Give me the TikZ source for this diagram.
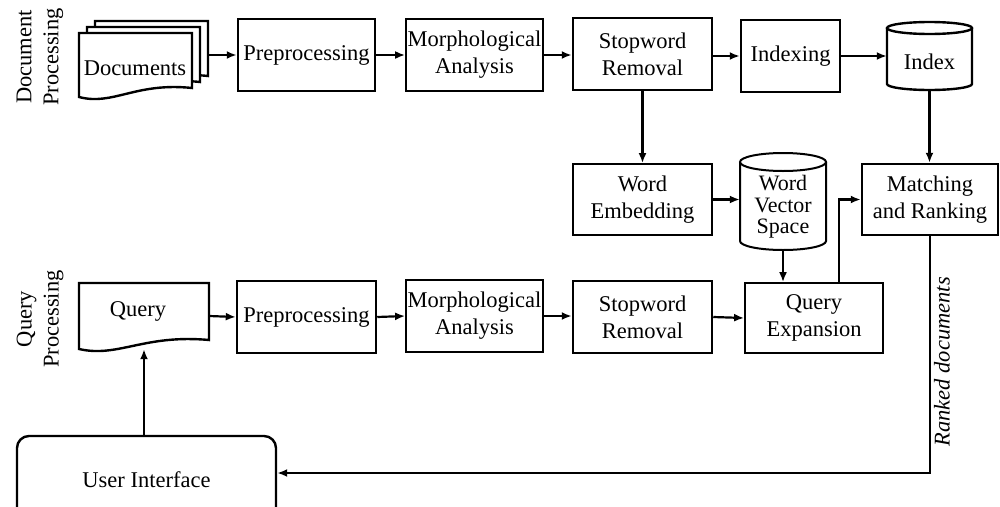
\documentclass[tikz,border=0pt]{standalone}
\usepackage{fontspec}
\setmainfont{Liberation Serif}
\usetikzlibrary{arrows.meta,calc}
\tikzset{
  base/.style={font=\fontsize{22.5}{27}\selectfont, align=center, inner sep=0pt},
  thickbox/.style={base, draw, line width=2.5pt, minimum height=72pt},
  thinbox/.style={base, draw, line width=1.8pt, minimum height=72pt},
  shapeline/.style={line width=2.4pt},
  thinline/.style={line width=2pt},
  conn/.style={line width=2.2pt, -{Latex[length=10pt,width=8pt]}},
  sidelabel/.style={base, rotate=90},
}
\newcommand{\docsheet}{(79,33) -- (192,33) -- (192,88) .. controls (135.5,82) and (113,106) .. (79,97) -- cycle}
\begin{document}
\begin{tikzpicture}[x=1pt,y=-1pt]
\useasboundingbox (0,0) rectangle (1000,506);

% side labels
\node[sidelabel] (lbldoc) at (40,57) {Document\\Processing};
\node[sidelabel] (lblquery) at (40,319) {Query\\Processing};

% document stack
\begin{scope}[shift={(16,-12)}]
  \draw[shapeline, fill=white] \docsheet;
\end{scope}
\begin{scope}[shift={(8,-6)}]
  \draw[shapeline, fill=white] \docsheet;
\end{scope}
\draw[shapeline, fill=white] \docsheet;
\node[base] (docs) at (135,68) {Documents};
\node[base, minimum width=129pt, minimum height=76pt] (docstack) at (143.5,59) {};

% top row
\node[thickbox, minimum width=137pt] (pre1) at (306.5,55) {Preprocessing};
\node[thinbox, minimum width=137pt] (morph1) at (474.5,55) {Morphological\\Analysis};
\node[thickbox, minimum width=139pt] (stop1) at (642.5,54) {Stopword\\Removal};
\node[thickbox, minimum width=99pt] (indexing) at (790.5,56) {Indexing};

% Index cylinder
\draw[shapeline] (929.5,28) ellipse [x radius=42.5pt, y radius=6pt];
\draw[shapeline] (887,28) -- (887,84) .. controls (887,87.3) and (906,90) .. (929.5,90)
  .. controls (953,90) and (972,87.3) .. (972,84) -- (972,28);
\node[base, minimum width=85pt, minimum height=56pt] (index) at (929.5,62) {Index};

% middle row
\node[thinbox, minimum width=139pt, minimum height=71pt] (wemb) at (642.5,199.5) {Word\\Embedding};
\draw[thinline] (783,162) ellipse [x radius=43pt, y radius=9pt];
\draw[thinline] (740,162) -- (740,241) .. controls (740,246) and (759.2,250) .. (783,250)
  .. controls (806.8,250) and (826,246) .. (826,241) -- (826,162);
\node[base, font=\fontsize{22}{21.5}\selectfont, minimum width=86pt, minimum height=88pt] (wvs) at (783,207) {Word\\Vector\\Space};
\node[thickbox, minimum width=136pt, minimum height=71pt] (match) at (930,199.5) {Matching\\and Ranking};

% bottom row
\draw[shapeline, fill=white] (79,283) -- (209,283) -- (209,340) .. controls (144,334) and (118,358) .. (79,349) -- cycle;
\node[base] (query) at (138,311) {Query};
\node[base, minimum width=130pt, minimum height=66pt] (querydoc) at (144,316) {};
\node[thickbox, minimum width=139pt] (pre2) at (306.5,317) {Preprocessing};
\node[thinbox, minimum width=137pt] (morph2) at (474.5,316) {Morphological\\Analysis};
\node[thickbox, minimum width=139pt] (stop2) at (642.5,317) {Stopword\\Removal};
\node[thinbox, minimum width=138pt, minimum height=70pt] (qe) at (814,318) {Query\\Expansion};

% user interface
\node[base, draw, line width=2.4pt, rounded corners=12pt, minimum width=259pt, minimum height=88pt] (ui) at (146.5,480) {User Interface};
\coordinate (uiin) at ($(ui.east)+(0,-7)$);

% connectors
\draw[conn] (docstack.east |- pre1.west) -- (pre1.west);
\draw[conn] (pre1.east) -- (morph1.west);
\draw[conn] (morph1.east) -- (stop1.west |- morph1.east);
\draw[conn] (stop1.east |- indexing.west) -- (indexing.west);
\draw[conn] (indexing.east) -- (indexing.east -| index.west);
\draw[conn] (index.south) -- (index.south |- match.north);
\draw[conn] (stop1.south) -- (wemb.north);
\draw[conn] (wemb.east) -- (wemb.east -| wvs.west);
\draw[conn] (wvs.south) -- (wvs.south |- qe.north);
\draw[conn] ($(qe.north)+(25,0)$) |- (match.west);
\draw[conn] (querydoc.east) -- (pre2.west);
\draw[conn] (pre2.east) -- (morph2.west);
\draw[conn] (morph2.east) -- (stop2.west |- morph2.east);
\draw[conn] (stop2.east) -- (qe.west);
\draw[conn] (ui.north -| querydoc.south) -- (querydoc.south);
\draw[conn] (match.south) |- (uiin)
  node[pos=0.265, anchor=north, rotate=90, inner sep=3pt, font=\fontsize{22.5}{24}\selectfont\itshape] (ranked) {Ranked documents};
\end{tikzpicture}
\end{document}
